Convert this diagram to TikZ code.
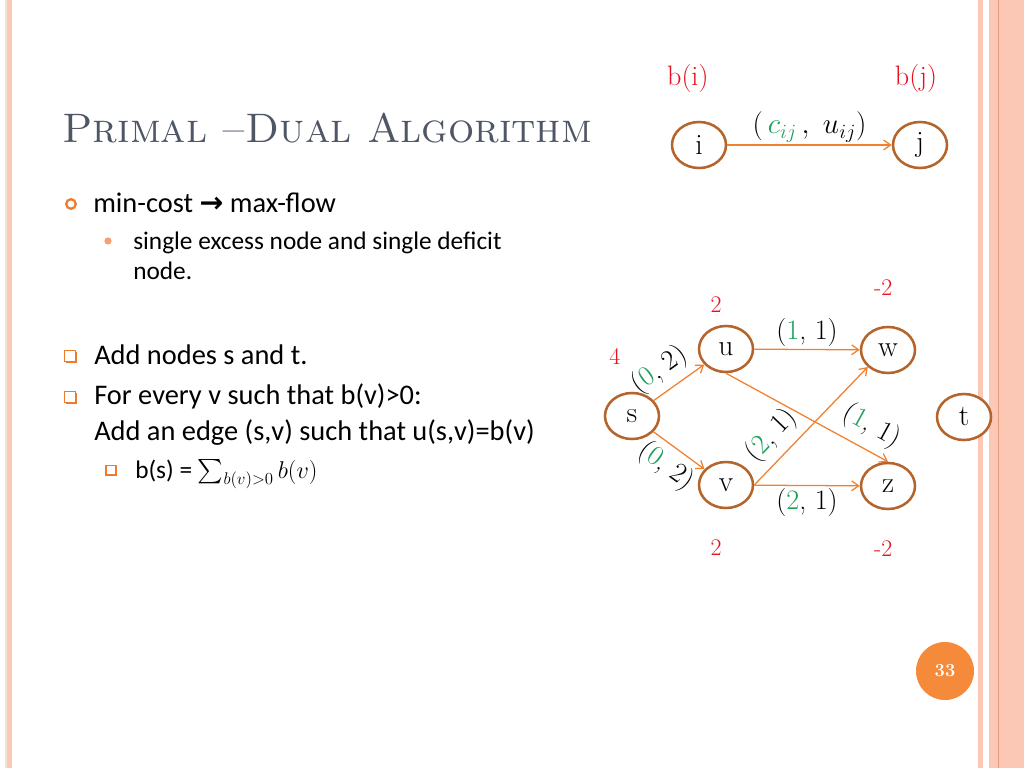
\documentclass[tikz,border=0pt]{standalone}
\usepackage{fontspec}
\usepackage{amsmath}
\newfontfamily\calibri{Carlito}
\newfontfamily\symfont{DejaVu Sans}
\usepackage{xcolor}
\usetikzlibrary{positioning,arrows.meta,shapes.geometric,shadows}

\definecolor{titlegray}{HTML}{4F5766}
\definecolor{bulorange}{HTML}{EE7A2C}
\definecolor{dotorange}{HTML}{F4A070}
\definecolor{nodebrown}{HTML}{B5652C}
\definecolor{edgeorange}{HTML}{F0812F}
\definecolor{supplyred}{HTML}{E8101E}
\definecolor{costgreen}{HTML}{1CA05A}
\definecolor{pageorange}{HTML}{F58A3A}
\definecolor{stripepink}{HTML}{FBC8B6}
\definecolor{stripepale}{HTML}{F7E3D6}
\definecolor{stripedark}{HTML}{E49A78}

\begin{document}
\begin{tikzpicture}[
  x=0.025cm, y=-0.025cm,
  >={Straight Barb[length=5pt,width=7pt]},
  vertex/.style={ellipse, draw=nodebrown, line width=1.8pt, fill=white, minimum width=1.35cm, minimum height=1.15cm, inner sep=0pt, font=\fontsize{21}{24}\selectfont},
  flow/.style={->, draw=edgeorange, line width=0.9pt},
  supply/.style={text=supplyred, inner sep=0pt, font=\fontsize{17}{20}\selectfont},
  cost/.style={inner sep=1.5pt, font=\fontsize{20}{23}\selectfont},
  slopecost/.style={cost, sloped, inner sep=5pt},
  body/.style={anchor=base west, inner sep=0pt, font=\calibri\fontsize{20.2}{24.9}\selectfont, align=left},
  subbody/.style={anchor=base west, inner sep=0pt, font=\calibri\fontsize{18}{21.3}\selectfont, align=left},
  ringbul/.style={circle, draw=bulorange, line width=1.6pt, minimum size=0.24cm, inner sep=0pt},
  dotbul/.style={circle, fill=dotorange, minimum size=0.18cm, inner sep=0pt},
  boxbul/.style={rectangle, draw=bulorange, fill=white, line width=1pt, minimum size=0.27cm, inner sep=0pt,
    drop shadow={shadow xshift=0.8pt, shadow yshift=-0.8pt, fill=bulorange, opacity=1}},
]
\useasboundingbox (0,0) rectangle (1024,768);
\fill[white] (0,0) rectangle (1024,768);

% side stripes
\fill[stripepale] (5,0) rectangle (7,768);
\fill[stripepink] (7,0) rectangle (12,768);
\fill[stripepink] (978,0) rectangle (983,768);
\fill[stripepink] (989,0) rectangle (1024,768);
\draw[stripedark, line width=0.6pt] (998,0) -- (998,768);

% Title
\node[anchor=base west, inner sep=0pt, text=titlegray, font=\fontsize{29.3}{34}\selectfont] (title) at (62,143)
  {\textsc{Primal –Dual Algorithm}};

% Bullets and text (multi-line nodes sit on their last baseline)
\node[ringbul] (b1) at (71,204) {};
\node[body] (l1) at (93,212) {min-cost {\symfont\bfseries →} max-flow};
\node[dotbul] (b2) at (108,241) {};
\node[subbody] (l2) at (133,279) {single excess node and single deficit\\node.};
\node[boxbul] (b3) at (70,356) {};
\node[body] (l3) at (94,364) {Add nodes s and t.};
\node[boxbul] (b4) at (70,397) {};
\node[body] (l4) at (94,440) {For every v such that b(v)>0:\\Add an edge (s,v) such that u(s,v)=b(v)};
\node[boxbul, minimum size=0.24cm] (b5) at (111,470) {};
\node[subbody] (l5) at (135,478) {b(s) = $\sum_{b(v)>0} b(v)$};

% Arc legend
\node[vertex] (i) at (699,145) {i};
\node[vertex] (j) at (920,145) {j};
\draw[flow] (i) -- (j) node[midway, above, cost] {$(\,{\color{costgreen}c_{ij}}\,,\ u_{ij})$};
\node[supply, above=0.7cm of i, xshift=-0.28cm, font=\fontsize{20}{23}\selectfont] (bi) {b(i)};
\node[supply, above=0.7cm of j, xshift=-0.1cm, font=\fontsize{20}{23}\selectfont] (bj) {b(j)};

% Network
\node[vertex] (s) at (632,416) {s};
\node[vertex] (u) at (726,349) {u};
\node[vertex] (w) at (888,350) {w};
\node[vertex] (v) at (726,485) {v};
\node[vertex] (z) at (888,486) {z};
\node[vertex] (t) at (964,417) {t};

\draw[flow] (s) -- (u) node[pos=0.36, above, slopecost] {(\textcolor{costgreen}{0}, 2)};
\draw[flow] (s) -- (v) node[pos=0.48, below, slopecost, inner sep=4pt] {(\textcolor{costgreen}{0}, 2)};
\draw[flow] (u) -- (w) node[midway, above, cost] {(\textcolor{costgreen}{1}, 1)};
\draw[flow] (v) -- (z) node[midway, below, cost] {(\textcolor{costgreen}{2}, 1)};
\draw[flow] (u.south) -- (z.north) node[pos=0.83, above, slopecost, inner sep=6pt] {(\textcolor{costgreen}{1}, 1)};
\draw[flow] (v.east) -- (w.220) node[pos=0.29, above, slopecost] {(\textcolor{costgreen}{2}, 1)};

% Supplies
\node[supply, above=0.68cm of s, xshift=-0.43cm] (bs) {4};
\node[supply, above=0.3cm of u, xshift=-0.25cm] (bu) {2};
\node[supply, above=0.75cm of w, xshift=-0.12cm] (bw) {-2};
\node[supply, below=0.75cm of v, xshift=-0.25cm] (bv) {2};
\node[supply, below=0.75cm of z, xshift=-0.12cm] (bz) {-2};

% Page number
\node[circle, fill=pageorange, minimum size=1.45cm, text=white, font=\bfseries\fontsize{13}{15}\selectfont] (pagenum) at (945,671) {33};

\end{tikzpicture}
\end{document}
